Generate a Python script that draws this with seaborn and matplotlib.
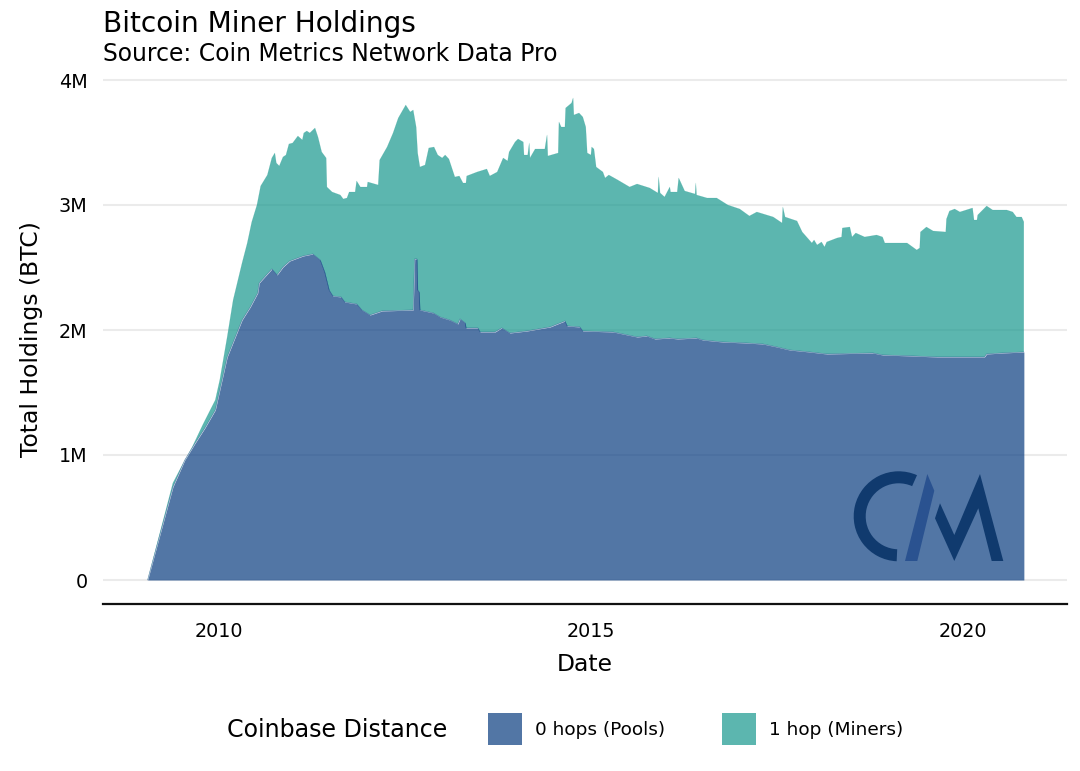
import numpy as np
import matplotlib
matplotlib.use("Agg")
import matplotlib.pyplot as plt
from matplotlib.patches import Patch, Polygon, Wedge
import seaborn as sns

# total holdings = pools + miners (million BTC)
total_dates = [2009.04, 2009.38, 2009.52, 2009.64, 2009.78, 2009.95, 2010.01, 2010.11, 2010.19, 2010.31,
               2010.38, 2010.44, 2010.51, 2010.56, 2010.65, 2010.71, 2010.75, 2010.77, 2010.81, 2010.86,
               2010.90, 2010.94, 2010.99, 2011.06, 2011.12, 2011.14, 2011.18, 2011.22, 2011.29, 2011.33,
               2011.38, 2011.44, 2011.45, 2011.52, 2011.63, 2011.67, 2011.72, 2011.75, 2011.83, 2011.85,
               2011.90, 2011.99, 2012.00, 2012.14, 2012.16, 2012.26, 2012.34, 2012.41, 2012.51, 2012.57,
               2012.61, 2012.65, 2012.67, 2012.70, 2012.77, 2012.82, 2012.89, 2012.94, 2013.00, 2013.04,
               2013.09, 2013.17, 2013.23, 2013.28, 2013.32, 2013.33, 2013.47, 2013.60, 2013.64, 2013.74,
               2013.82, 2013.88, 2013.90, 2013.98, 2014.02, 2014.09, 2014.10, 2014.15, 2014.17, 2014.18,
               2014.25, 2014.38, 2014.41, 2014.42, 2014.56, 2014.57, 2014.60, 2014.65, 2014.66, 2014.74,
               2014.76, 2014.77, 2014.84, 2014.89, 2014.93, 2014.95, 2015.00, 2015.01, 2015.04, 2015.07,
               2015.16, 2015.19, 2015.24, 2015.36, 2015.52, 2015.62, 2015.79, 2015.90, 2015.91, 2015.93,
               2015.99, 2016.06, 2016.07, 2016.16, 2016.18, 2016.26, 2016.40, 2016.41, 2016.42, 2016.56,
               2016.69, 2016.84, 2017.00, 2017.13, 2017.23, 2017.45, 2017.57, 2017.58, 2017.61, 2017.77,
               2017.84, 2017.97, 2018.00, 2018.04, 2018.10, 2018.14, 2018.17, 2018.31, 2018.37, 2018.38,
               2018.48, 2018.51, 2018.56, 2018.68, 2018.84, 2018.92, 2018.95, 2019.25, 2019.38, 2019.42,
               2019.43, 2019.51, 2019.60, 2019.77, 2019.78, 2019.82, 2019.89, 2019.96, 2020.13, 2020.15,
               2020.19, 2020.20, 2020.32, 2020.40, 2020.59, 2020.67, 2020.72, 2020.79, 2020.82]
total_values = [0.0, 0.776, 0.936, 1.064, 1.24, 1.44, 1.60, 1.944, 2.24, 2.536,
                2.696, 2.864, 3.0, 3.152, 3.24, 3.376, 3.416, 3.336, 3.312, 3.384,
                3.40, 3.488, 3.496, 3.552, 3.52, 3.576, 3.592, 3.576, 3.616, 3.544,
                3.424, 3.376, 3.144, 3.104, 3.08, 3.048, 3.056, 3.104, 3.104, 3.192,
                3.144, 3.144, 3.184, 3.16, 3.36, 3.464, 3.576, 3.696, 3.80, 3.744,
                3.76, 3.624, 3.416, 3.304, 3.32, 3.456, 3.464, 3.40, 3.376, 3.40,
                3.368, 3.224, 3.232, 3.176, 3.176, 3.232, 3.264, 3.288, 3.232, 3.264,
                3.376, 3.352, 3.424, 3.504, 3.528, 3.504, 3.40, 3.40, 3.496, 3.376,
                3.448, 3.448, 3.56, 3.392, 3.416, 3.664, 3.624, 3.624, 3.776, 3.816,
                3.856, 3.72, 3.736, 3.704, 3.624, 3.416, 3.40, 3.464, 3.448, 3.304,
                3.264, 3.216, 3.24, 3.20, 3.144, 3.168, 3.136, 3.096, 3.224, 3.096,
                3.064, 3.144, 3.104, 3.104, 3.216, 3.112, 3.088, 3.176, 3.08, 3.056,
                3.056, 3.0, 2.968, 2.912, 2.944, 2.904, 2.856, 2.984, 2.904, 2.872,
                2.784, 2.696, 2.72, 2.68, 2.704, 2.664, 2.704, 2.736, 2.744, 2.816,
                2.824, 2.744, 2.776, 2.744, 2.76, 2.744, 2.696, 2.696, 2.64, 2.656,
                2.784, 2.824, 2.792, 2.784, 2.888, 2.952, 2.968, 2.944, 2.976, 2.88,
                2.88, 2.92, 2.992, 2.96, 2.96, 2.944, 2.904, 2.904, 2.864]

pool_dates = [2009.04, 2009.38, 2009.54, 2009.68, 2009.81, 2009.95, 2010.01, 2010.11, 2010.24, 2010.31,
              2010.42, 2010.52, 2010.54, 2010.71, 2010.78, 2010.86, 2010.95, 2011.13, 2011.26, 2011.36,
              2011.42, 2011.48, 2011.53, 2011.64, 2011.69, 2011.85, 2011.92, 2012.03, 2012.19, 2012.61,
              2012.63, 2012.66, 2012.67, 2012.69, 2012.70, 2012.88, 2012.97, 2013.10, 2013.21, 2013.24,
              2013.31, 2013.32, 2013.48, 2013.51, 2013.71, 2013.80, 2013.91, 2014.14, 2014.45, 2014.65,
              2014.68, 2014.85, 2014.89, 2015.30, 2015.62, 2015.75, 2015.86, 2016.06, 2016.16, 2016.42,
              2016.50, 2016.77, 2017.09, 2017.31, 2017.50, 2017.67, 2017.94, 2018.17, 2018.79, 2018.92,
              2019.33, 2019.65, 2020.29, 2020.32, 2020.53, 2020.82]
pool_values = [0.0, 0.744, 0.96, 1.096, 1.216, 1.36, 1.52, 1.784, 1.976, 2.08,
               2.184, 2.296, 2.376, 2.488, 2.44, 2.504, 2.552, 2.592, 2.608, 2.56,
               2.464, 2.32, 2.272, 2.264, 2.224, 2.208, 2.16, 2.12, 2.152, 2.16,
               2.568, 2.568, 2.32, 2.304, 2.16, 2.136, 2.104, 2.08, 2.048, 2.088,
               2.056, 2.016, 2.016, 1.984, 1.984, 2.016, 1.976, 1.992, 2.024, 2.072,
               2.032, 2.024, 1.992, 1.984, 1.944, 1.952, 1.928, 1.936, 1.928, 1.936,
               1.92, 1.904, 1.896, 1.888, 1.864, 1.84, 1.824, 1.808, 1.816, 1.80,
               1.792, 1.784, 1.784, 1.808, 1.816, 1.824]

y_ticks = [0, 1, 2, 3, 4]
y_tick_labels = ["0", "1M", "2M", "3M", "4M"]
x_ticks = [2010, 2015, 2020]
legend_labels = ["0 hops (Pools)", "1 hop (Miners)"]

POOL_COLOR = "#0F4183"
MINER_COLOR = "#1D9A90"
ALPHA = 0.72

sns.set_theme(style="whitegrid")
plt.rcParams["font.family"] = ["DejaVu Sans"]

W, H = 1080, 771
fig = plt.figure(figsize=(W / 100, H / 100), dpi=100, facecolor="white")
ax = fig.add_axes([103 / W, 1 - 604 / H, 964 / W, 526.5 / H])

# stacked areas, the miners band sits between the two curves
ax.fill(np.r_[total_dates, pool_dates[::-1]], np.r_[total_values, pool_values[::-1]],
        color=MINER_COLOR, alpha=ALPHA, lw=0)
ax.fill_between(pool_dates, 0, pool_values, color=POOL_COLOR, alpha=ALPHA, lw=0)
sns.lineplot(x=total_dates, y=total_values, ax=ax, color=MINER_COLOR, lw=0.3, alpha=0.3, sort=False, errorbar=None)
sns.lineplot(x=pool_dates, y=pool_values, ax=ax, color=POOL_COLOR, lw=0.5, alpha=0.5, sort=False, errorbar=None)

ax.set_xlim(2008.44, 2021.40)
ax.set_ylim(-0.192, 4.02)
ax.set_xticks(x_ticks)
ax.set_xticklabels([str(t) for t in x_ticks], fontsize=13.8, color="black")
ax.set_yticks(y_ticks)
ax.set_yticklabels(y_tick_labels, fontsize=13.8, color="black")
ax.tick_params(axis="x", length=0, pad=13)
ax.tick_params(axis="y", length=0, pad=11)
ax.grid(False, axis="x")
ax.grid(True, axis="y", color="#EBEBEB", lw=1.5)
ax.set_axisbelow(True)
for side in ["top", "left", "right"]:
    ax.spines[side].set_visible(False)
ax.spines["bottom"].set_color("#111111")
ax.spines["bottom"].set_linewidth(1.6)
ax.set_xlabel("Date", fontsize=16.9, color="black", labelpad=8.5)
ax.set_ylabel("Total Holdings (BTC)", fontsize=16.9, color="black", labelpad=11.7, y=0.503)

fig.text(103 / W, 1 - 24 / H, "Bitcoin Miner Holdings", fontsize=20.2, color="black", va="center")
fig.text(103 / W, 1 - 54 / H, "Source: Coin Metrics Network Data Pro", fontsize=16.95, color="black", va="center")

# legend
fig.text(227 / W, 1 - 730 / H, "Coinbase Distance", fontsize=17.1, color="black", va="center")
handles = [Patch(color=POOL_COLOR, alpha=ALPHA, lw=0), Patch(color=MINER_COLOR, alpha=ALPHA, lw=0)]
fig.legend(handles, legend_labels, ncol=2, frameon=False, loc="center left", labelcolor="black",
           bbox_to_anchor=(473.5 / W, 1 - 729 / H), fontsize=13.3, handlelength=1.85, handleheight=2.3,
           handletextpad=0.7, columnspacing=3.05, borderpad=0.3)

# CM logo, drawn in pixel coordinates on top of everything
logo = fig.add_axes([0, 0, 1, 1], facecolor="none")
logo.set_xlim(0, W)
logo.set_ylim(H, 0)
logo.axis("off")
logo.add_patch(Wedge((898.7, 516.3), 45, 92.6, 294, width=12, color="#103A6E", lw=0))
logo.add_patch(Polygon([(905, 561), (917.3, 561), (934.3, 490.7), (927.3, 474)], color="#2A5290", lw=0))
logo.add_patch(Polygon([(935, 518.3), (940, 503.3), (954.3, 535), (980, 474), (1003.3, 561), (991.7, 561),
                        (978.3, 508.3), (954.3, 561)], color="#103A6E", lw=0))

fig.savefig("out.png", dpi=100, facecolor="white")
